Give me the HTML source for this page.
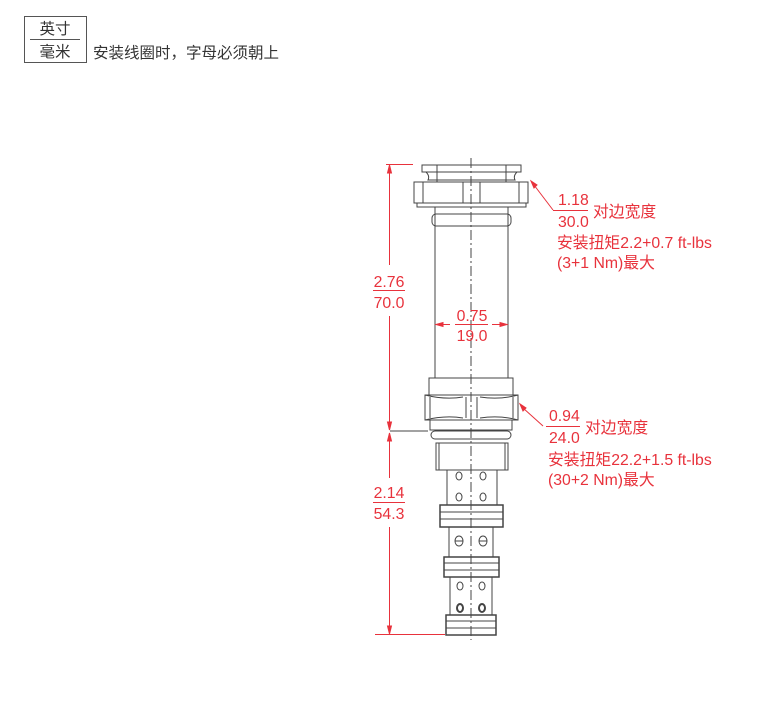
<!DOCTYPE html>
<html><head><meta charset="utf-8"><style>
body{margin:0;background:#fff;width:781px;height:712px;overflow:hidden}
svg{display:block}
text{font-family:"Liberation Sans","Noto Sans CJK SC",sans-serif}
.r{fill:#e8323c;font-size:15.8px}
.k{fill:#333;font-size:15.5px}
</style></head><body>
<svg width="781" height="712" viewBox="0 0 781 712">
<rect x="24.5" y="16.5" width="62" height="46" fill="none" stroke="#555"/>
<line x1="30" y1="39.5" x2="80" y2="39.5" stroke="#555"/>
<text class="k" x="55" y="34" text-anchor="middle">英寸</text>
<text class="k" x="55" y="57" text-anchor="middle">毫米</text>
<text class="k" x="93" y="58">安装线圈时，字母必须朝上</text>

<g fill="none" stroke="#444" stroke-width="1">
<rect x="422" y="165" width="99" height="7"/>
<path d="M426 172 Q430 176 428 180 L515 180 Q513 176 517 172"/>
<line x1="437" y1="165" x2="437" y2="182"/><line x1="506" y1="165" x2="506" y2="182"/>
<rect x="414" y="182" width="114" height="21"/>
<line x1="423" y1="182" x2="423" y2="203"/><line x1="519" y1="182" x2="519" y2="203"/>
<line x1="463" y1="182" x2="463" y2="203"/><line x1="480" y1="182" x2="480" y2="203"/>
<rect x="417" y="203" width="109" height="4"/>
<rect x="435" y="207" width="73" height="171"/>
<rect x="432" y="214" width="79" height="12" rx="4"/>
<rect x="429" y="378" width="84" height="17"/>
<path d="M425 395 L518 395 L518 420 L425 420 Z M425 395 Q445 400 463 397 M425 420 Q445 415 463 418 M518 395 Q500 400 480 397 M518 420 Q500 415 480 418"/>
<line x1="430" y1="397" x2="430" y2="418"/><line x1="513" y1="397" x2="513" y2="418"/>
<line x1="466" y1="397" x2="466" y2="418"/><line x1="477" y1="397" x2="477" y2="418"/>
<rect x="430" y="420" width="82" height="10"/>
<rect x="431" y="431" width="80" height="8" rx="4"/>
<rect x="436" y="443" width="72" height="27"/>
<line x1="439" y1="443" x2="439" y2="470"/><line x1="505" y1="443" x2="505" y2="470"/>
<rect x="447" y="470" width="50" height="35"/>
<rect x="440" y="505" width="63" height="22" stroke-width="1.5"/>
<line x1="440" y1="512" x2="503" y2="512"/><line x1="440" y1="519" x2="503" y2="519"/>
<rect x="449" y="527" width="44" height="30"/>
<rect x="444" y="557" width="55" height="20" stroke-width="1.5"/>
<line x1="444" y1="563" x2="499" y2="563"/><line x1="444" y1="570" x2="499" y2="570"/>
<rect x="450" y="577" width="42" height="38"/>
<rect x="446" y="615" width="50" height="20" stroke-width="1.5"/>
<line x1="446" y1="621" x2="496" y2="621"/><line x1="446" y1="628" x2="496" y2="628"/>
<ellipse cx="459" cy="476" rx="3" ry="4"/><ellipse cx="483" cy="476" rx="3" ry="4"/>
<ellipse cx="459" cy="497" rx="3" ry="4"/><ellipse cx="483" cy="497" rx="3" ry="4"/>
<ellipse cx="459" cy="541" rx="4" ry="5"/><ellipse cx="483" cy="541" rx="4" ry="5"/>
<line x1="455" y1="541" x2="463" y2="541"/><line x1="479" y1="541" x2="487" y2="541"/>
<ellipse cx="460" cy="586" rx="3" ry="4"/><ellipse cx="482" cy="586" rx="3" ry="4"/>
<ellipse cx="460" cy="608" rx="3" ry="4" stroke-width="2"/><ellipse cx="482" cy="608" rx="3" ry="4" stroke-width="2"/>
<line x1="471" y1="158" x2="471" y2="640" stroke-dasharray="10,3,2,3"/>
<line x1="390" y1="431" x2="428" y2="431"/>
</g>
<g stroke="#e8323c" fill="#e8323c" stroke-width="1">
<line x1="386" y1="164.5" x2="413" y2="164.5"/>
<line x1="375" y1="634.5" x2="445" y2="634.5"/>
<line x1="389.5" y1="166" x2="389.5" y2="265"/>
<line x1="389.5" y1="316" x2="389.5" y2="430"/>
<line x1="389.5" y1="433" x2="389.5" y2="478"/>
<line x1="389.5" y1="527" x2="389.5" y2="633"/>
<path d="M389.5 165 l-2 8 h4z M389.5 430 l-2 -8 h4z M389.5 433 l-2 8 h4z M389.5 634 l-2 -8 h4z"/>
<line x1="373" y1="290.5" x2="405" y2="290.5"/>
<line x1="373" y1="502.5" x2="405" y2="502.5"/>
<line x1="437" y1="324.5" x2="450" y2="324.5"/><line x1="492" y1="324.5" x2="506" y2="324.5"/>
<line x1="455" y1="324.5" x2="488" y2="324.5"/>
<path d="M436 324.5 l7 -2 v4z M507 324.5 l-7 -2 v4z"/>
<line x1="534" y1="185" x2="553" y2="210"/><line x1="553" y1="210.5" x2="588" y2="210.5"/>
<path d="M531 181 l3 7 l3 -3z"/>
<line x1="523" y1="408" x2="543" y2="426"/><line x1="546" y1="426.5" x2="580" y2="426.5"/>
<path d="M520 404 l3 7 l3 -3z"/>
</g>
<g>
<text x="389" y="287" text-anchor="middle" class="r">2.76</text>
<text x="389" y="308" text-anchor="middle" class="r">70.0</text>
<text x="389" y="498" text-anchor="middle" class="r">2.14</text>
<text x="389" y="519" text-anchor="middle" class="r">54.3</text>
<text x="472" y="321" text-anchor="middle" class="r">0.75</text>
<text x="472" y="341" text-anchor="middle" class="r">19.0</text>
<text x="558" y="205" class="r">1.18</text>
<text x="558" y="227" class="r">30.0</text>
<text x="593" y="217" class="r">对边宽度</text>
<text x="557" y="248" class="r">安装扭矩2.2+0.7 ft-lbs</text>
<text x="557" y="268" class="r">(3+1 Nm)最大</text>
<text x="549" y="421" class="r">0.94</text>
<text x="549" y="443" class="r">24.0</text>
<text x="585" y="433" class="r">对边宽度</text>
<text x="548" y="465" class="r">安装扭矩22.2+1.5 ft-lbs</text>
<text x="548" y="485" class="r">(30+2 Nm)最大</text>
</g>
</svg>
</body></html>
